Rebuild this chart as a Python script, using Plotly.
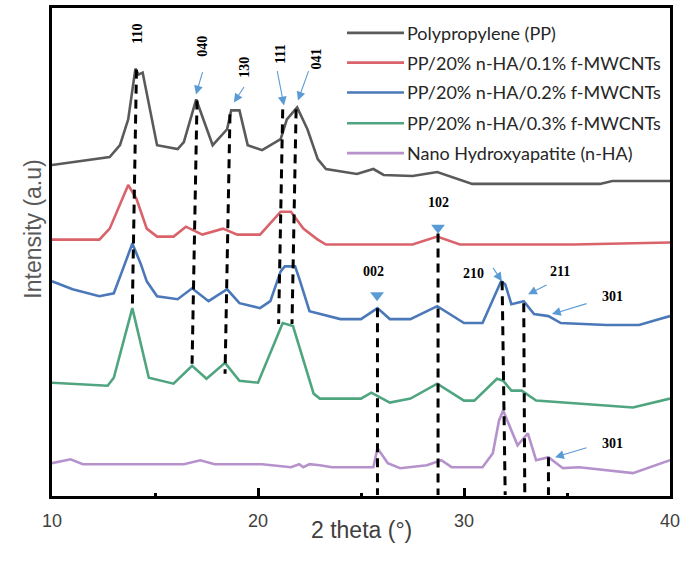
import plotly.graph_objects as go

# ---------------- data (2θ in degrees, intensity in arbitrary units with offsets) -------------
names = ["Polypropylene (PP)",
         "PP/20% n-HA/0.1% f-MWCNTs",
         "PP/20% n-HA/0.2% f-MWCNTs",
         "PP/20% n-HA/0.3% f-MWCNTs",
         "Nano Hydroxyapatite (n-HA)"]
colors = ["#5a5a5a", "#d9626b", "#4a78b8", "#4fa57f", "#b592cc"]

pp_x = [10, 12.8, 13.3, 13.7, 14.05, 14.2, 14.4, 15.1, 16.1, 16.4, 17.0, 17.8, 18.5, 18.7, 19.1,
        19.5, 20.2, 21.1, 21.4, 21.9, 22.4, 22.9, 23.3, 24.8, 25.6, 26.1, 27.5, 28.7, 30.4, 36.6,
        37.2, 40]
pp_y = [333, 341, 353, 379, 430, 424, 426, 353, 349, 356, 399, 353, 369, 388, 388,
        353, 348, 359, 379, 391, 369, 339, 329, 324, 329, 323, 322, 326, 314, 314,
        317, 317]

c01_x = [10, 12.3, 12.8, 13.7, 14.1, 14.6, 15.1, 15.9, 16.5, 17.3, 18.3, 19.0, 20.1, 21.1, 21.6,
         22.2, 22.9, 23.3, 25.9, 27.5, 28.7, 29.8, 35.3, 40]
c01_y = [258, 258, 269, 313, 299, 269, 261, 261, 271, 263, 269, 263, 263, 286, 286,
         269, 258, 253, 253, 253, 261, 253, 253, 255]

c02_x = [10, 11.0, 12.3, 13.0, 13.4, 13.9, 14.3, 14.6, 15.1, 16.1, 16.8, 17.6, 18.5, 19.1, 20.1,
         20.6, 21.1, 21.3, 21.8, 22.0, 22.5, 24.0, 25.0, 25.8, 26.4, 27.4, 28.7, 30.0, 30.9, 31.6,
         31.8, 32.0, 32.3, 32.9, 33.4, 34.1, 34.7, 36.9, 38.5, 39.5, 40]
c02_y = [216, 208, 201, 204, 226, 254, 234, 216, 201, 198, 209, 196, 208, 194, 189,
         196, 226, 231, 231, 219, 186, 178, 178, 189, 178, 178, 191, 174, 174, 208,
         216, 213, 193, 196, 183, 181, 174, 172, 172, 178, 181]

c03_x = [10, 12.7, 13.0, 13.9, 14.7, 15.9, 16.8, 17.5, 18.4, 19.1, 20.0, 21.2, 21.7, 22.7, 23.0,
         25.0, 25.5, 26.4, 27.4, 28.7, 30.0, 30.5, 31.6, 31.9, 32.3, 32.8, 33.5, 36.9, 38.2, 40]
c03_y = [114, 111, 119, 189, 119, 113, 131, 118, 134, 116, 114, 174, 171, 103, 98,
         98, 104, 94, 98, 113, 96, 96, 118, 116, 106, 106, 96, 91, 89, 98]

ha_x = [10, 10.9, 11.5, 16.4, 17.2, 17.9, 20.2, 21.6, 22.0, 22.2, 22.5, 23.0, 23.6, 25.6, 25.8,
        26.3, 26.9, 28.2, 28.9, 29.4, 30.9, 31.4, 31.7, 31.9, 32.6, 33.1, 33.5, 34.1, 34.8, 35.6,
        38.2, 40]
ha_y = [33, 37, 32, 32, 36, 32, 32, 29, 32, 29, 32, 31, 29, 29, 48,
        33, 28, 31, 36, 29, 29, 43, 76, 86, 51, 63, 36, 39, 28, 29,
        23, 36]

series_x = [pp_x, c01_x, c02_x, c03_x, ha_x]
series_y = [pp_y, c01_y, c02_y, c03_y, ha_y]

# dashed reference lines: (x_top, y_top, x_bottom, y_bottom)
ref_x_top = [14.1, 17.04, 18.64, 21.2, 21.85, 25.8, 28.74, 31.85, 32.9, 34.1]
ref_y_top = [429, 398, 384, 389, 389, 189, 264, 216, 194, 39]
ref_x_bot = [13.9, 16.8, 18.4, 21.0, 21.65, 25.8, 28.74, 32.0, 32.95, 34.1]
ref_y_bot = [189, 133, 123, 173, 173, 1, 1, 1, 1, 1]

# peak (hkl) labels
vlabel_text = ["110", "040", "130", "111", "041"]
vlabel_x = [14.17, 17.33, 19.37, 21.12, 22.86]
vlabel_y = [465, 452, 431, 444, 440]
hlabel_text = ["002", "102", "210", "211", "301", "301"]
hlabel_x = [25.63, 28.74, 30.44, 34.66, 37.23, 37.23]
hlabel_y = [226, 295, 224, 226, 201, 53]

# arrows: tail -> head
arrow_tail_x = [17.33, 19.37, 20.92, 22.48, 31.36, 34.08, 36.02, 36.02]
arrow_tail_y = [428, 413, 429, 429, 231, 213, 194, 49]
arrow_head_x = [16.99, 18.83, 21.26, 21.94, 31.84, 33.11, 34.27, 34.42]
arrow_head_y = [404, 396, 393, 398, 216, 203, 183, 39]

# triangle markers
tri_x = [25.78, 28.74]
tri_y = [202, 270]

# ---------------- figure ----------------
W, H = 685, 561
L, R, T, B = 52, 15, 5, 65
PW, PH = W - L - R, H - T - B


def px2paper(px, py):
    return (px - L) / PW, (H - B - py) / PH


fig = go.Figure()
for nm, c, xs, ys in zip(names, colors, series_x, series_y):
    fig.add_trace(go.Scatter(x=xs, y=ys, mode="lines", name=nm,
                             line=dict(color=c, width=2.6), showlegend=False))

for x0, y0, x1, y1 in zip(ref_x_top, ref_y_top, ref_x_bot, ref_y_bot):
    fig.add_shape(type="line", xref="x", yref="y", x0=x0, y0=y0, x1=x1, y1=y1,
                  line=dict(color="black", width=3, dash="9px,6px"))

arrow_color = "#5b9bd5"
fig.add_trace(go.Scatter(x=tri_x, y=tri_y, mode="markers", showlegend=False,
                         marker=dict(symbol="triangle-down", size=12, color=arrow_color)))

serif = "Liberation Serif"
for t, x, y in zip(vlabel_text, vlabel_x, vlabel_y):
    fig.add_annotation(x=x, y=y, xref="x", yref="y", text="<b>%s</b>" % t, textangle=-90,
                       showarrow=False, font=dict(family=serif, size=14, color="black"))
for t, x, y in zip(hlabel_text, hlabel_x, hlabel_y):
    fig.add_annotation(x=x, y=y, xref="x", yref="y", text="<b>%s</b>" % t,
                       showarrow=False, font=dict(family=serif, size=14, color="black"))
for tx, ty, hx, hy in zip(arrow_tail_x, arrow_tail_y, arrow_head_x, arrow_head_y):
    fig.add_annotation(x=hx, y=hy, ax=tx, ay=ty, xref="x", yref="y", axref="x", ayref="y",
                       text="", showarrow=True, arrowhead=2, arrowsize=1.6, arrowwidth=1.1,
                       arrowcolor=arrow_color)

# legend (drawn manually to match the long line samples)
leg_y = [30, 60, 90, 121, 151]
for nm, c, py in zip(names, colors, leg_y):
    x0, y0 = px2paper(347, py)
    x1, _ = px2paper(404, py)
    fig.add_shape(type="line", xref="paper", yref="paper", x0=x0, x1=x1, y0=y0, y1=y0,
                  line=dict(color=c, width=2.6))
    tx, _ = px2paper(405, py)
    fig.add_annotation(x=tx, y=y0, xref="paper", yref="paper", text=nm, showarrow=False,
                       xanchor="left", yanchor="middle",
                       font=dict(family="Lato", size=18, color="#262626"))

# axis titles
ax_, ay_ = px2paper(361, 545)
fig.add_annotation(x=ax_, y=ay_, xref="paper", yref="paper", text="2 theta (°)", showarrow=False,
                   font=dict(family="Liberation Sans", size=23, color="#404040"))
ax_, ay_ = px2paper(18, 228)
fig.add_annotation(x=ax_, y=ay_, xref="paper", yref="paper", text="Intensity (a.u)",
                   showarrow=False, textangle=-90,
                   font=dict(family="Liberation Sans", size=23, color="#595959"))

fig.update_layout(
    width=W, height=H, margin=dict(l=L, r=R, t=T, b=B),
    plot_bgcolor="white", paper_bgcolor="white",
    xaxis=dict(range=[10, 40], tickvals=[10, 20, 30, 40], ticks="inside", ticklen=8,
               tickwidth=2.5, tickcolor="black", ticklabelstandoff=6,
               minor=dict(tickvals=[15, 25, 35], ticks="inside", ticklen=3, tickwidth=2.5,
                          tickcolor="black"),
               showline=True, linewidth=3, linecolor="black", mirror=True, showgrid=False,
               zeroline=False,
               tickfont=dict(family="Liberation Sans", size=18, color="#404040")),
    yaxis=dict(range=[0, 491], showticklabels=False, ticks="", showline=True, linewidth=3,
               linecolor="black", mirror=True, showgrid=False, zeroline=False),
)

fig.write_html("out.html", config={"displayModeBar": False},
               post_script="document.body.style.margin='0px';")
